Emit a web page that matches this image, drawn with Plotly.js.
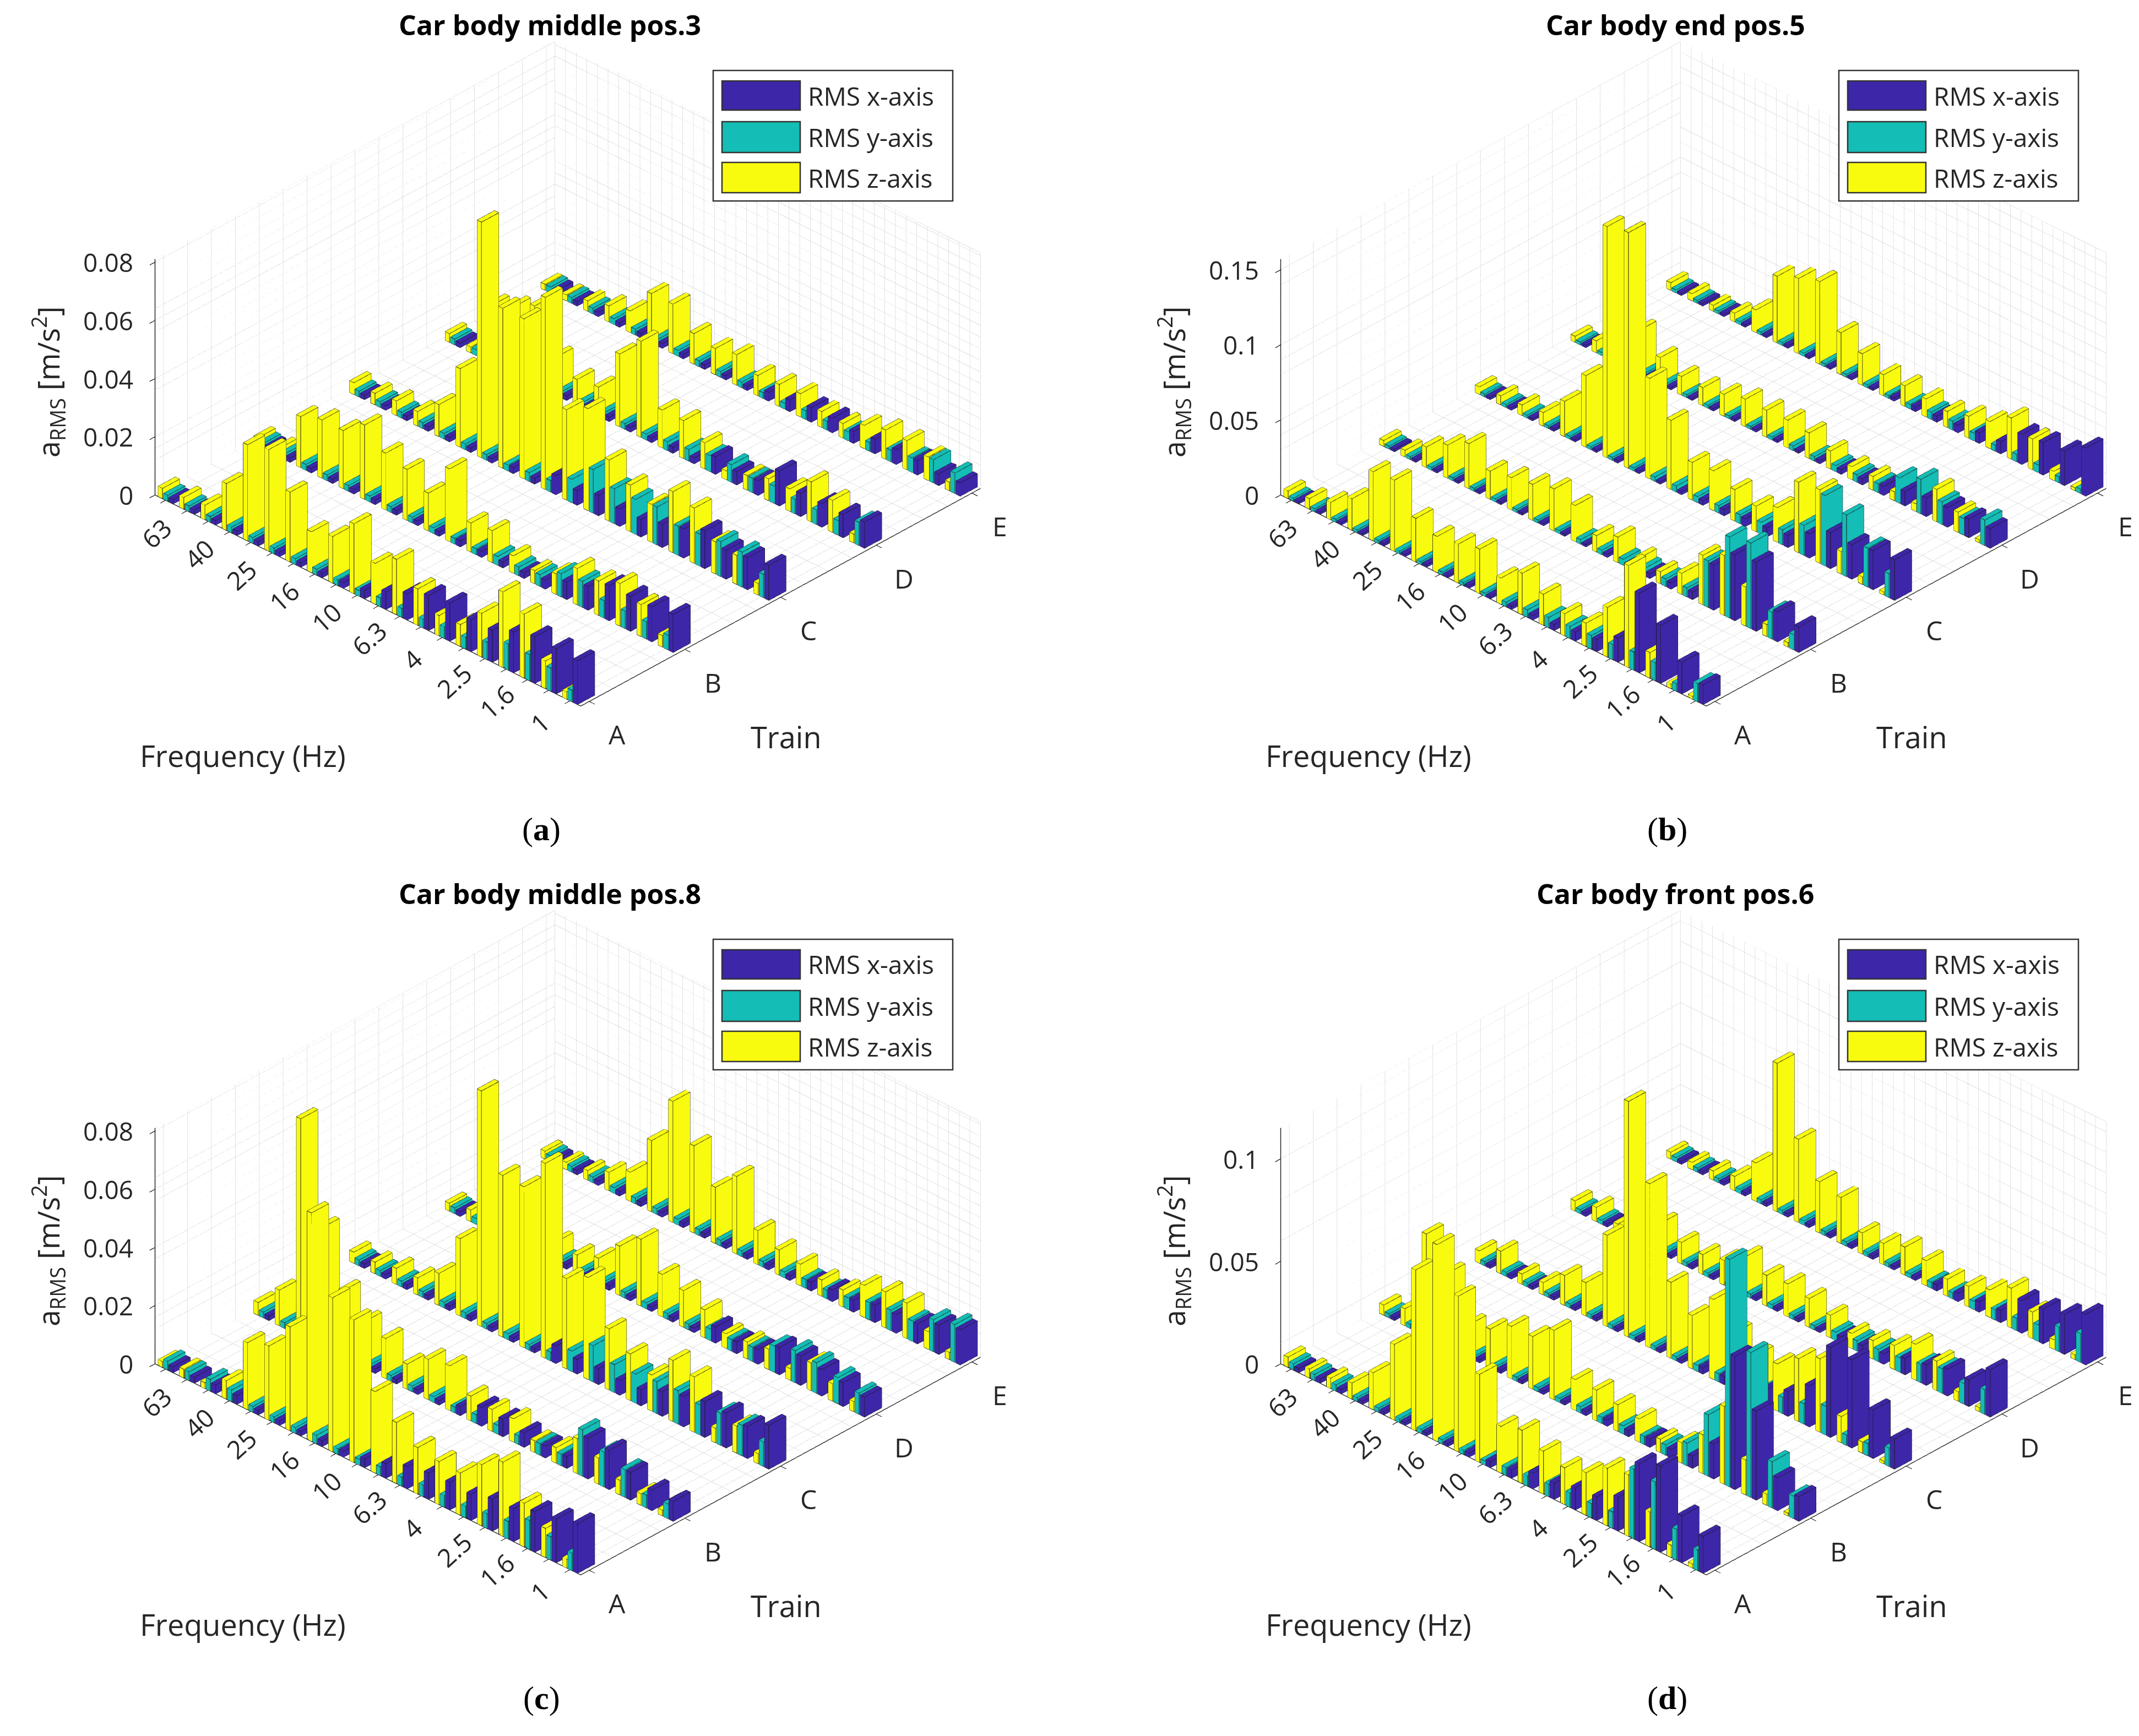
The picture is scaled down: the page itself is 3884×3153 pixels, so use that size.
<!DOCTYPE html>
<html><head><meta charset="utf-8">
<script src="https://cdn.plot.ly/plotly-3.0.1.min.js"></script>
<style>html,body{margin:0;padding:0;background:#fff;}#chart{width:3884px;height:3153px;}</style>
</head><body><div id="chart"></div>
<script>
// ---------------- DATA ----------------
const FREQUENCY_BANDS = ['80','63','50','40','31.5','25','20','16','12.5','10','8','6.3','5','4','3.15','2.5','2','1.6','1.25','1'];
const FREQ_TICK_LABELS = ['', '63', '', '40', '', '25', '', '16', '', '10', '', '6.3', '', '4', '', '2.5', '', '1.6', '', '1'];
const TRAINS = ['A','B','C','D','E'];
const SERIES_NAMES = ['RMS x-axis','RMS y-axis','RMS z-axis'];
const TITLES = ['Car body middle pos.3','Car body end pos.5','Car body middle pos.8','Car body front pos.6'];
const PANEL_LETTERS = ['a','b','c','d'];

// Car body middle pos.3  (rows: trains A..E, columns: 80 Hz .. 1 Hz)
const pos3_x = [
 [0.0015,0.0015,0.0015,0.0015,0.0015,0.0015,0.0015,0.0015,0.002,0.003,0.006,0.009,0.012,0.013,0.011,0.011,0.014,0.016,0.0155,0.015],
 [0.0015,0.0015,0.0015,0.0015,0.0015,0.0015,0.0015,0.0015,0.0015,0.002,0.002,0.002,0.002,0.003,0.006,0.008,0.012,0.012,0.012,0.013],
 [0.0015,0.0015,0.0015,0.0015,0.0015,0.0015,0.0015,0.002,0.002,0.0065,0.005,0.007,0.006,0.006,0.008,0.01,0.013,0.01,0.011,0.012],
 [0.0015,0.0015,0.0015,0.0015,0.0015,0.0015,0.0015,0.0015,0.0015,0.0015,0.002,0.002,0.006,0.0045,0.005,0.012,0.008,0.008,0.008,0.009],
 [0.0015,0.0015,0.0015,0.0015,0.0015,0.0015,0.0015,0.0015,0.0015,0.0015,0.003,0.004,0.005,0.005,0.004,0.005,0.005,0.005,0.004,0.0045]];
const pos3_y = [
 [0.002,0.002,0.002,0.002,0.002,0.002,0.002,0.002,0.002,0.002,0.003,0.003,0.003,0.004,0.004,0.006,0.009,0.009,0.008,0.004],
 [0.002,0.002,0.002,0.002,0.002,0.002,0.002,0.002,0.002,0.002,0.002,0.003,0.003,0.004,0.008,0.009,0.006,0.006,0.006,0.005],
 [0.002,0.002,0.002,0.002,0.002,0.002,0.002,0.002,0.003,0.004,0.008,0.015,0.012,0.012,0.013,0.01,0.011,0.012,0.012,0.008],
 [0.002,0.002,0.002,0.002,0.002,0.002,0.002,0.002,0.002,0.002,0.003,0.004,0.0055,0.006,0.005,0.006,0.005,0.005,0.005,0.008],
 [0.002,0.002,0.002,0.002,0.002,0.002,0.002,0.002,0.002,0.002,0.002,0.002,0.003,0.003,0.003,0.003,0.004,0.005,0.008,0.007]];
const pos3_z = [
 [0.0035,0.004,0.005,0.016,0.033,0.035,0.024,0.014,0.016,0.024,0.014,0.019,0.0125,0.007,0.0075,0.015,0.026,0.022,0.0095,0.0025],
 [0.003,0.003,0.0175,0.02,0.02,0.0255,0.0195,0.0175,0.013,0.025,0.01,0.011,0.006,0.0045,0.007,0.0125,0.0118,0.0146,0.011,0.004],
 [0.004,0.004,0.005,0.005,0.011,0.027,0.081,0.055,0.055,0.066,0.031,0.035,0.021,0.016,0.013,0.021,0.019,0.011,0.01,0.004],
 [0.003,0.002,0.02,0.023,0.027,0.013,0.009,0.01,0.025,0.033,0.013,0.013,0.009,0.003,0.005,0.0075,0.0077,0.0137,0.011,0.003],
 [0.002,0.002,0.0036,0.0055,0.0074,0.017,0.017,0.0105,0.009,0.0105,0.007,0.0075,0.008,0.0055,0.005,0.008,0.01,0.01,0.008,0.003]];

// Car body end pos.5
const pos5_x = [
 [0.0015,0.0015,0.0015,0.0015,0.0015,0.0015,0.0015,0.0015,0.0015,0.0015,0.002,0.003,0.004,0.006,0.008,0.016,0.053,0.0385,0.021,0.013],
 [0.0015,0.0015,0.0015,0.0015,0.0015,0.0015,0.0015,0.0015,0.0015,0.0015,0.002,0.002,0.003,0.004,0.005,0.03,0.044,0.046,0.02,0.017],
 [0.0015,0.0015,0.0015,0.0015,0.0015,0.0015,0.0015,0.0015,0.0015,0.002,0.003,0.004,0.005,0.006,0.008,0.016,0.024,0.023,0.026,0.027],
 [0.0015,0.0015,0.0015,0.0015,0.0015,0.0015,0.0015,0.0015,0.0015,0.0015,0.0015,0.002,0.003,0.004,0.006,0.0096,0.0124,0.013,0.0124,0.013],
 [0.0015,0.0015,0.0015,0.0015,0.0015,0.0015,0.0015,0.0015,0.0015,0.0015,0.002,0.003,0.004,0.005,0.007,0.008,0.02,0.0216,0.023,0.032]];
const pos5_y = [
 [0.002,0.002,0.002,0.002,0.002,0.002,0.002,0.002,0.002,0.002,0.003,0.005,0.007,0.008,0.009,0.01,0.012,0.012,0.005,0.012],
 [0.002,0.002,0.002,0.002,0.002,0.002,0.002,0.002,0.002,0.003,0.003,0.004,0.005,0.005,0.006,0.031,0.054,0.057,0.018,0.01],
 [0.002,0.002,0.002,0.002,0.002,0.002,0.002,0.002,0.003,0.004,0.004,0.005,0.006,0.008,0.01,0.02,0.047,0.041,0.026,0.016],
 [0.002,0.002,0.002,0.002,0.002,0.002,0.002,0.002,0.002,0.002,0.003,0.003,0.004,0.005,0.006,0.017,0.023,0.015,0.011,0.017],
 [0.002,0.002,0.002,0.002,0.002,0.002,0.002,0.002,0.002,0.002,0.002,0.003,0.005,0.006,0.005,0.004,0.005,0.005,0.004,0.003]];
const pos5_z = [
 [0.005,0.007,0.0115,0.021,0.046,0.0475,0.029,0.024,0.026,0.0296,0.0174,0.0276,0.0207,0.0148,0.0155,0.033,0.068,0.017,0.003,0.002],
 [0.004,0.0045,0.0137,0.022,0.03,0.0187,0.0214,0.024,0.028,0.024,0.011,0.017,0.01,0.008,0.014,0.033,0.04,0.026,0.008,0.003],
 [0.005,0.006,0.007,0.009,0.0235,0.0477,0.154,0.157,0.067,0.046,0.025,0.0265,0.021,0.017,0.023,0.047,0.049,0.015,0.005,0.002],
 [0.004,0.008,0.015,0.029,0.018,0.0124,0.012,0.0146,0.0184,0.018,0.0185,0.017,0.012,0.0086,0.0091,0.006,0.005,0.0216,0.0135,0.002],
 [0.005,0.0047,0.004,0.0058,0.015,0.0445,0.05,0.055,0.028,0.021,0.014,0.0137,0.012,0.0107,0.0145,0.018,0.0274,0.0205,0.006,0.002]];

// Car body middle pos.8
const pos8_x = [
 [0.002,0.002,0.003,0.003,0.0015,0.0015,0.0015,0.002,0.002,0.003,0.005,0.0076,0.009,0.0094,0.009,0.011,0.0113,0.0139,0.015,0.017],
 [0.0015,0.0015,0.0015,0.0015,0.0015,0.0015,0.0015,0.0015,0.0015,0.003,0.0065,0.006,0.005,0.004,0.004,0.014,0.0135,0.0095,0.007,0.0068],
 [0.0015,0.0015,0.0015,0.0015,0.0015,0.0015,0.0015,0.0015,0.0015,0.006,0.005,0.0055,0.005,0.0055,0.0085,0.0105,0.0123,0.012,0.011,0.015],
 [0.0015,0.0015,0.0015,0.0015,0.0015,0.0015,0.0015,0.0015,0.0015,0.0015,0.0015,0.0015,0.0055,0.004,0.005,0.0094,0.01,0.009,0.0082,0.0068],
 [0.0015,0.0015,0.0015,0.0015,0.0015,0.0015,0.0015,0.0015,0.0015,0.0015,0.0015,0.0015,0.003,0.004,0.004,0.006,0.0064,0.0068,0.01,0.012]];
const pos8_y = [
 [0.003,0.003,0.004,0.004,0.002,0.002,0.002,0.003,0.002,0.002,0.003,0.003,0.004,0.004,0.004,0.005,0.006,0.01,0.008,0.006],
 [0.002,0.002,0.002,0.002,0.002,0.002,0.002,0.002,0.002,0.002,0.003,0.003,0.003,0.004,0.004,0.016,0.012,0.0095,0.0044,0.005],
 [0.002,0.002,0.002,0.002,0.002,0.002,0.002,0.002,0.002,0.003,0.007,0.0125,0.0096,0.01,0.011,0.0115,0.0103,0.011,0.0105,0.0084],
 [0.002,0.002,0.002,0.002,0.002,0.002,0.002,0.002,0.002,0.002,0.002,0.002,0.004,0.004,0.005,0.009,0.011,0.0105,0.009,0.0073],
 [0.002,0.002,0.002,0.002,0.002,0.002,0.002,0.002,0.002,0.002,0.002,0.002,0.003,0.003,0.004,0.006,0.007,0.007,0.011,0.013]];
const pos8_z = [
 [0.002,0.003,0.002,0.0063,0.023,0.0255,0.0357,0.0785,0.053,0.049,0.028,0.021,0.016,0.0148,0.0145,0.021,0.0255,0.015,0.01,0.003],
 [0.0044,0.0123,0.0748,0.041,0.023,0.016,0.0138,0.0086,0.0139,0.0153,0.0085,0.0076,0.008,0.004,0.0053,0.012,0.009,0.005,0.004,0.002],
 [0.0038,0.004,0.0055,0.0058,0.011,0.0266,0.081,0.0556,0.0553,0.067,0.031,0.035,0.021,0.016,0.0124,0.021,0.019,0.005,0.0093,0.0035],
 [0.0027,0.004,0.01,0.015,0.015,0.0075,0.0067,0.0092,0.017,0.023,0.0145,0.0126,0.0096,0.005,0.0058,0.007,0.004,0.0095,0.006,0.0035],
 [0.0027,0.0025,0.0033,0.0063,0.01,0.0245,0.0416,0.03,0.0193,0.0267,0.0117,0.0087,0.0074,0.0056,0.0058,0.011,0.0124,0.0122,0.006,0.0025]];

// Car body front pos.6
const pos6_x = [
 [0.002,0.002,0.002,0.0015,0.0015,0.0015,0.0015,0.0015,0.002,0.003,0.004,0.0075,0.008,0.0107,0.0115,0.0165,0.038,0.042,0.0228,0.018],
 [0.0015,0.0015,0.0015,0.0015,0.0015,0.0015,0.0015,0.0015,0.0015,0.002,0.003,0.003,0.004,0.004,0.006,0.017,0.065,0.0434,0.016,0.012],
 [0.0015,0.0015,0.0015,0.0015,0.0015,0.0015,0.0015,0.0015,0.0015,0.0015,0.003,0.004,0.006,0.008,0.012,0.02,0.044,0.043,0.0237,0.0146],
 [0.0015,0.0015,0.0015,0.0015,0.0015,0.0015,0.0015,0.0015,0.0015,0.0015,0.0015,0.0015,0.003,0.004,0.005,0.008,0.01,0.013,0.013,0.023],
 [0.0015,0.0015,0.0015,0.0015,0.0015,0.0015,0.0015,0.0015,0.0015,0.0015,0.0015,0.0015,0.003,0.004,0.005,0.006,0.016,0.017,0.0195,0.0247]];
const pos6_y = [
 [0.003,0.003,0.003,0.002,0.002,0.002,0.002,0.002,0.002,0.002,0.004,0.005,0.006,0.007,0.007,0.008,0.034,0.033,0.015,0.01],
 [0.002,0.002,0.002,0.002,0.002,0.002,0.002,0.002,0.002,0.003,0.003,0.004,0.004,0.005,0.011,0.03,0.111,0.0707,0.0226,0.011],
 [0.002,0.002,0.002,0.002,0.002,0.002,0.002,0.002,0.002,0.002,0.003,0.004,0.005,0.006,0.008,0.01,0.014,0.005,0.006,0.009],
 [0.002,0.002,0.002,0.002,0.002,0.002,0.002,0.002,0.002,0.002,0.002,0.002,0.004,0.005,0.006,0.007,0.009,0.012,0.01,0.012],
 [0.002,0.002,0.002,0.002,0.002,0.002,0.002,0.002,0.002,0.002,0.002,0.002,0.003,0.003,0.004,0.005,0.006,0.008,0.012,0.014]];
const pos6_z = [
 [0.005,0.0043,0.005,0.0078,0.018,0.037,0.0785,0.096,0.076,0.043,0.0227,0.026,0.021,0.018,0.0207,0.028,0.03,0.017,0.006,0.002],
 [0.005,0.0084,0.05,0.036,0.016,0.019,0.0255,0.0257,0.0339,0.015,0.015,0.013,0.0113,0.0065,0.01,0.019,0.038,0.017,0.0054,0.0013],
 [0.006,0.011,0.005,0.006,0.0146,0.0163,0.0445,0.115,0.08,0.037,0.026,0.039,0.028,0.022,0.023,0.0307,0.0358,0.0128,0.0055,0.0013],
 [0.005,0.007,0.004,0.008,0.0146,0.0105,0.0097,0.012,0.019,0.015,0.016,0.014,0.011,0.0073,0.009,0.0117,0.0175,0.0144,0.0046,0.002],
 [0.0033,0.0035,0.0045,0.007,0.0187,0.0725,0.0405,0.025,0.0225,0.0103,0.0103,0.0137,0.0122,0.0083,0.01,0.0134,0.0194,0.0129,0.0046,0.0023]];

const Z_TICKS_POS3 = [0, 0.02, 0.04, 0.06, 0.08];
const Z_TICKS_POS5 = [0, 0.05, 0.1, 0.15];
const Z_TICKS_POS8 = [0, 0.02, 0.04, 0.06, 0.08];
const Z_TICKS_POS6 = [0, 0.05, 0.1];
const Z_TICK_TEXT_POS3 = ['0','0.02','0.04','0.06','0.08'];
const Z_TICK_TEXT_POS5 = ['0','0.05','0.1','0.15'];
const Z_TICK_TEXT_POS8 = ['0','0.02','0.04','0.06','0.08'];
const Z_TICK_TEXT_POS6 = ['0','0.05','0.1'];

// ---------------- STYLE ----------------
const W = 3884, H = 3153;
const COLORS = ['#3e26a8', '#14bdb5', '#f9fb0e'];   // x, y, z
const FONT = 'Open Sans, Noto Sans, DejaVu Sans, sans-serif';
const TXT = '#262626';
const XR = [0.5, 20.5], YR = [0.91, 5.09];
const SERIES_OFFSET = [0.25, 0, -0.25];
const HALF_U = 0.1, HALF_V = 0.09;
const EYE_DIR = [0.590, -0.618, 0.520];
const EYE = 1.8;
const ASPECT = {x:1.576, y:1.551, z:0.739};

const panels = [
  {id:'scene',  X:pos3_x, Y:pos3_y, Z:pos3_z, zmax:0.081, zt:Z_TICKS_POS3, ztt:Z_TICK_TEXT_POS3, zminor:0.004, dx:0,    dy:0},
  {id:'scene2', X:pos5_x, Y:pos5_y, Z:pos5_z, zmax:0.157, zt:Z_TICKS_POS5, ztt:Z_TICK_TEXT_POS5, zminor:0.01,  dx:2044, dy:0},
  {id:'scene3', X:pos8_x, Y:pos8_y, Z:pos8_z, zmax:0.081, zt:Z_TICKS_POS8, ztt:Z_TICK_TEXT_POS8, zminor:0.004, dx:0,    dy:1578},
  {id:'scene4', X:pos6_x, Y:pos6_y, Z:pos6_z, zmax:0.115, zt:Z_TICKS_POS6, ztt:Z_TICK_TEXT_POS6, zminor:0.01,  dx:2044, dy:1578}
];

const traces = [];
const layout = {
  width: W, height: H, margin: {l:0, r:0, t:0, b:0},
  paper_bgcolor: '#ffffff', showlegend: false, hovermode: false, dragmode: false,
  font: {family: FONT, color: TXT},
  annotations: [], shapes: []
};
const px = x => x / W, py = y => 1 - y / H;

panels.forEach((p, pi) => {
  const series = [p.X, p.Y, p.Z];
  const ex = [], ey = [], ez = [];
  series.forEach((vals, si) => {
    const mx = [], my = [], mz = [], I = [], J = [], K = [];
    vals.forEach((row, t) => {
      row.forEach((h, k) => {
        const uc = k + 1 + SERIES_OFFSET[si], vc = t + 1;
        const x0 = uc - HALF_U, x1 = uc + HALF_U, y0 = vc - HALF_V, y1 = vc + HALF_V;
        const n = mx.length;
        const cx = [x0, x1, x1, x0, x0, x1, x1, x0];
        const cy = [y0, y0, y1, y1, y0, y0, y1, y1];
        const cz = [0, 0, 0, 0, h, h, h, h];
        for (let q = 0; q < 8; q++) { mx.push(cx[q]); my.push(cy[q]); mz.push(cz[q]); }
        const tri = [[0,1,2],[0,2,3],[4,5,6],[4,6,7],[0,1,5],[0,5,4],[1,2,6],[1,6,5],[2,3,7],[2,7,6],[3,0,4],[3,4,7]];
        tri.forEach(tr => { I.push(n + tr[0]); J.push(n + tr[1]); K.push(n + tr[2]); });
        const path = [[0,1,2,3,0],[4,5,6,7,4],[0,4],[1,5],[2,6],[3,7]];
        path.forEach(sg => { sg.forEach(q => { ex.push(cx[q]); ey.push(cy[q]); ez.push(cz[q]); }); ex.push(null); ey.push(null); ez.push(null); });
      });
    });
    traces.push({type:'mesh3d', scene:p.id, x:mx, y:my, z:mz, i:I, j:J, k:K, color:COLORS[si],
      flatshading:true, lighting:{ambient:1, diffuse:0, specular:0, roughness:1, fresnel:0},
      hoverinfo:'skip', showscale:false, name:SERIES_NAMES[si]});
  });
  traces.push({type:'scatter3d', scene:p.id, mode:'lines', x:ex, y:ey, z:ez,
    line:{color:'#1a1a1a', width:2}, hoverinfo:'skip', showlegend:false});

  // light grid on back planes
  const gx = [], gy = [], gz = [];
  const seg = (a, b) => { gx.push(a[0], b[0], null); gy.push(a[1], b[1], null); gz.push(a[2], b[2], null); };
  for (let u = XR[0]; u <= XR[1] + 1e-9; u += 0.5) { seg([u, YR[0], 0], [u, YR[1], 0]); seg([u, YR[1], 0], [u, YR[1], p.zmax]); }
  const vlist = [YR[0]]; for (let v = 1; v <= 5 + 1e-9; v += 0.25) vlist.push(v); vlist.push(YR[1]);
  vlist.forEach(v => { seg([XR[0], v, 0], [XR[1], v, 0]); seg([XR[0], v, 0], [XR[0], v, p.zmax]); });
  for (let z = 0; z <= p.zmax + 1e-9; z += p.zminor) { seg([XR[0], YR[0], z], [XR[0], YR[1], z]); seg([XR[0], YR[1], z], [XR[1], YR[1], z]); }
  seg([XR[0], YR[0], p.zmax], [XR[0], YR[1], p.zmax]); seg([XR[0], YR[1], p.zmax], [XR[1], YR[1], p.zmax]);
  traces.push({type:'scatter3d', scene:p.id, mode:'lines', x:gx, y:gy, z:gz,
    line:{color:'#d9d9d9', width:1.5}, hoverinfo:'skip', showlegend:false});

  // scene annotations (tick labels)
  const sAnn = [];
  FREQ_TICK_LABELS.forEach((lab, k) => {
    if (!lab) return;
    sAnn.push({x:k + 1, y:YR[0], z:0, text:lab, showarrow:false, textangle:-42,
      font:{family:FONT, size:46, color:TXT}, xanchor:'center', yanchor:'middle', xshift:-56, yshift:-40});
  });
  TRAINS.forEach((lab, t) => {
    sAnn.push({x:XR[1], y:t + 1, z:0, text:lab, showarrow:false,
      font:{family:FONT, size:48, color:TXT}, xanchor:'center', yanchor:'middle', xshift:50, yshift:-60});
  });
  p.zt.forEach((v, q) => {
    sAnn.push({x:XR[0], y:YR[0], z:v, text:p.ztt[q], showarrow:false,
      font:{family:FONT, size:46, color:TXT}, xanchor:'right', yanchor:'middle', xshift:-38, yshift:0});
  });

  const cxp = 1031.5 + p.dx, cyp = 679 + p.dy;
  const axBase = {showgrid:false, zeroline:false, showbackground:false, showline:true, linecolor:TXT, linewidth:3,
    ticks:'outside', ticklen:14, tickwidth:3, tickcolor:TXT, showticklabels:false, showspikes:false, title:{text:''}};
  layout[p.id] = {
    domain: {x:[px(cxp) - 0.205, px(cxp) + 0.205], y:[py(cyp) - 0.215, py(cyp) + 0.215]},
    aspectmode:'manual', aspectratio:ASPECT,
    camera:{eye:{x:EYE_DIR[0]*EYE, y:EYE_DIR[1]*EYE, z:EYE_DIR[2]*EYE}, center:{x:0, y:0, z:0}, up:{x:0, y:0, z:1}, projection:{type:'orthographic'}},
    xaxis: Object.assign({}, axBase, {range:XR, tickvals:FREQUENCY_BANDS.map((f, k) => k + 1)}),
    yaxis: Object.assign({}, axBase, {range:YR, tickvals:TRAINS.map((t, k) => k + 1)}),
    zaxis: Object.assign({}, axBase, {range:[0, p.zmax], tickvals:p.zt}),
    annotations: sAnn, dragmode:false
  };

  const A = layout.annotations;
  A.push({xref:'paper', yref:'paper', x:px(998 + p.dx), y:py(45 + p.dy), text:'<b>' + TITLES[pi] + '</b>', showarrow:false,
    font:{family:FONT, size:50, color:'#000'}, xanchor:'center', yanchor:'middle'});
  A.push({xref:'paper', yref:'paper', x:px(441 + p.dx), y:py(1372 + p.dy), text:'Frequency (Hz)', showarrow:false,
    font:{family:FONT, size:54, color:TXT}, xanchor:'center', yanchor:'middle'});
  A.push({xref:'paper', yref:'paper', x:px(1427 + p.dx), y:py(1338 + p.dy), text:'Train', showarrow:false,
    font:{family:FONT, size:54, color:TXT}, xanchor:'center', yanchor:'middle'});
  A.push({xref:'paper', yref:'paper', x:px(87 + p.dx), y:py(694 + p.dy), text:'a<sub>RMS</sub> [m/s<sup>2</sup>]', showarrow:false,
    textangle:-90, font:{family:FONT, size:54, color:TXT}, xanchor:'center', yanchor:'middle'});
  A.push({xref:'paper', yref:'paper', x:px(983 + p.dx), y:py(1506 + p.dy), text:'(<b>' + PANEL_LETTERS[pi] + '</b>)', showarrow:false,
    font:{family:'Liberation Serif, DejaVu Serif, serif', size:60, color:'#000'}, xanchor:'center', yanchor:'middle'});

  const S = layout.shapes;
  S.push({type:'rect', xref:'paper', yref:'paper', x0:px(1295 + p.dx), x1:px(1730 + p.dx), y0:py(365 + p.dy), y1:py(128 + p.dy),
    fillcolor:'#ffffff', line:{color:'#333333', width:2.5}, layer:'above'});
  const rows = [[147, 200], [221, 277], [295, 350]];
  rows.forEach((r, q) => {
    S.push({type:'rect', xref:'paper', yref:'paper', x0:px(1311 + p.dx), x1:px(1453 + p.dx), y0:py(r[1] + p.dy), y1:py(r[0] + p.dy),
      fillcolor:COLORS[q], line:{color:'#333333', width:2.5}, layer:'above'});
    A.push({xref:'paper', yref:'paper', x:px(1465 + p.dx), y:py((r[0] + r[1]) / 2 + p.dy), text:SERIES_NAMES[q], showarrow:false,
      font:{family:FONT, size:46, color:TXT}, xanchor:'left', yanchor:'middle'});
  });
});

Plotly.newPlot('chart', traces, layout, {displayModeBar:false, scrollZoom:false, plotGlPixelRatio:1, responsive:false});
</script></body></html>
